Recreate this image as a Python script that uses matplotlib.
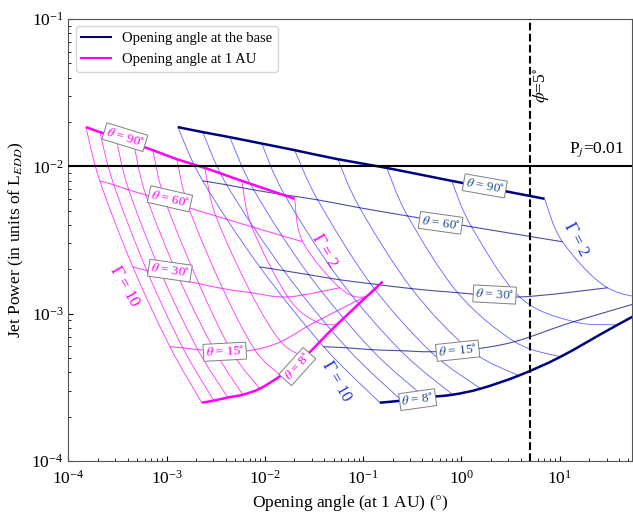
import numpy as np
import matplotlib
matplotlib.use("Agg")
import matplotlib.pyplot as plt
from matplotlib.lines import Line2D
from matplotlib.path import Path
from matplotlib.patches import PathPatch

plt.rcParams['font.family'] = 'serif'
plt.rcParams['font.serif'] = ['Liberation Serif', 'DejaVu Serif']
plt.rcParams['mathtext.fontset'] = 'stix'

# grid nodes: rows = theta, columns = Gamma
gammas = [10, 9, 8, 7, 6, 5, 4, 3, 2]
thetas = [90, 60, 30, 15, 8]

# jet power (L_EDD) at each node, same for both families
power = [
    [1.85e-2, 1.71e-2, 1.58e-2, 1.43e-2, 1.29e-2, 1.12e-2, 9.77e-3, 7.98e-3, 6.03e-3],
    [7.98e-3, 7.50e-3, 6.93e-3, 6.41e-3, 5.93e-3, 5.24e-3, 4.61e-3, 3.89e-3, 3.08e-3],
    [2.08e-3, 1.96e-3, 1.84e-3, 1.70e-3, 1.60e-3, 1.48e-3, 1.39e-3, 1.30e-3, 1.50e-3],
    [5.97e-4, 5.87e-4, 5.70e-4, 5.61e-4, 5.52e-4, 5.70e-4, 6.46e-4, 8.83e-4, 1.30e-3],
    [2.49e-4, 2.57e-4, 2.70e-4, 2.82e-4, 3.10e-4, 3.80e-4, 5.10e-4, 8.41e-4, 1.65e-3],
]

# opening angle at 1 AU (deg), theta = angle at the base
angle_base = [
    [1.30e-3, 2.33e-3, 4.40e-3, 9.29e-3, 2.01e-2, 5.52e-2, 0.174, 0.796, 7.03],
    [2.33e-3, 4.09e-3, 7.71e-3, 1.59e-2, 3.45e-2, 9.23e-2, 0.284, 1.27, 10.7],
    [8.87e-3, 1.56e-2, 2.80e-2, 5.78e-2, 0.119, 0.312, 0.916, 3.92, 30.8],
    [3.97e-2, 6.81e-2, 0.122, 0.241, 0.488, 1.21, 3.48, 13.9, 102.0],
    [0.148, 0.247, 0.424, 0.815, 1.57, 3.83, 10.2, 38.9, 254.0],
]

# opening angle at 1 AU (deg), theta = angle at 1 AU
angle_au = [
    [1.51e-4, 2.09e-4, 3.04e-4, 4.63e-4, 7.24e-4, 1.27e-3, 2.45e-3, 5.82e-3, 2.01e-2],
    [2.09e-4, 2.90e-4, 4.12e-4, 6.14e-4, 9.59e-4, 1.68e-3, 3.17e-3, 7.36e-3, 2.43e-2],
    [4.53e-4, 6.29e-4, 8.93e-4, 1.36e-3, 2.13e-3, 3.73e-3, 7.19e-3, 1.71e-2, 5.78e-2],
    [1.08e-3, 1.46e-3, 2.08e-3, 3.09e-3, 4.60e-3, 7.89e-3, 1.45e-2, 3.30e-2, 0.104],
    [2.28e-3, 3.02e-3, 4.20e-3, 5.96e-3, 8.87e-3, 1.45e-2, 2.55e-2, 5.38e-2, 0.158],
]

# label placement (x, y, rotation)
theta_lbl_base = [(1.73, 7.38e-3, -10), (0.615, 4.14e-3, -8), (2.18, 1.35e-3, -3),
                  (0.916, 5.61e-4, 6), (0.359, 2.61e-4, 8)]
theta_lbl_au = [(3.76e-4, 1.58e-2, -17), (1.08e-3, 6.03e-3, -13), (1.08e-3, 1.96e-3, -8),
                (3.91e-3, 5.52e-4, 3), (2.14e-2, 4.38e-4, 48)]

fig = plt.figure(figsize=(6.33, 5.12), dpi=100)
ax = fig.add_axes([0.108, 0.0996, 0.891, 0.863])

P = np.array(power)


def smooth(ax, xs, ys, **kw):
    # draw a smooth curve through the nodes (bezier in log-log space)
    pts = np.column_stack([np.log10(xs), np.log10(ys)])
    n = len(pts)
    verts = [pts[0]]
    codes = [Path.MOVETO]
    for k in range(n - 1):
        p0 = pts[k - 1] if k > 0 else pts[k]
        p1 = pts[k]
        p2 = pts[k + 1]
        p3 = pts[k + 2] if k + 2 < n else pts[k + 1]
        verts += [p1 + (p2 - p0) / 6, p2 - (p3 - p1) / 6, p2]
        codes += [Path.CURVE4] * 3
    path = Path(10 ** np.array(verts), codes)
    ax.add_patch(PathPatch(path, fill=False, **kw))


def draw_grid(xg, gcol, tcol, lblcol, lbls):
    xg = np.array(xg)
    for j in range(len(gammas)):
        smooth(ax, xg[:, j], P[:, j], ec=gcol, lw=0.65, alpha=0.75, zorder=2)
    for i, th in enumerate(thetas):
        if th in (90, 8):
            smooth(ax, xg[i], P[i], ec=tcol, lw=1.8, zorder=3)
        else:
            smooth(ax, xg[i], P[i], ec=tcol, lw=0.8, alpha=0.7, zorder=3)
        x, y, r = lbls[i]
        ax.text(x, y, r'$\theta$ = %d$^{\circ}$' % th, color=lblcol, fontsize=9.5,
                rotation=r, ha='center', va='center', zorder=5,
                bbox=dict(boxstyle='square,pad=0.15', fc='white', ec='gray', lw=0.7))


draw_grid(angle_base, '#3b3bff', 'navy', '#1f4f86', theta_lbl_base)
draw_grid(angle_au, 'magenta', 'magenta', 'magenta', theta_lbl_au)

ax.text(14.6, 3.18e-3, r'$\Gamma$ = 2', color='#2030e0', fontsize=12, rotation=-62,
        ha='center', va='center')
ax.text(5.38e-2, 3.46e-4, r'$\Gamma$ = 10', color='#2030e0', fontsize=12, rotation=-60,
        ha='center', va='center')
ax.text(4.02e-2, 2.67e-3, r'$\Gamma$ = 2', color='magenta', fontsize=12, rotation=-60,
        ha='center', va='center')
ax.text(3.76e-4, 1.52e-3, r'$\Gamma$ = 10', color='magenta', fontsize=12, rotation=-60,
        ha='center', va='center')

ax.axhline(0.01, color='black', lw=1.5, zorder=4)
ax.axvline(5, color='black', lw=1.5, ls='--', zorder=4)
ax.text(24, 0.0129, r'P$_j$=0.01', fontsize=12.5, ha='center', va='center')
ax.text(6.4, 0.0357, r'$\phi$=5$^{\circ}$', fontsize=12.5, rotation=90, ha='center', va='center')

ax.set_xscale('log')
ax.set_yscale('log')
ax.set_xlim(1e-4, 55)
ax.set_ylim(1e-4, 1e-1)
ax.set_xlabel('Opening angle (at 1 AU) ($\\degree$)', fontsize=12.5)
ax.set_ylabel(r'Jet Power (in units of L$_{EDD}$)', fontsize=12.5)
ax.tick_params(which='both', direction='in', labelsize=12.5)
ax.tick_params(axis='x', pad=6)
for s in ax.spines.values():
    s.set_color('#555555')

handles = [Line2D([], [], color='navy', lw=1.5), Line2D([], [], color='magenta', lw=1.5)]
ax.legend(handles, ['Opening angle at the base', 'Opening angle at 1 AU'],
          loc='upper left', fontsize=10.5)

fig.savefig('out.png', dpi=100)
